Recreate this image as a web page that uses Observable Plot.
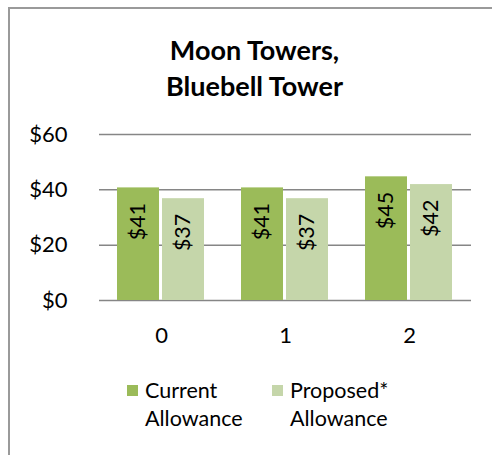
<!DOCTYPE html>
<html><head><meta charset="utf-8">
<script src="https://cdn.jsdelivr.net/npm/d3@7"></script>
<script src="https://cdn.jsdelivr.net/npm/@observablehq/plot@0.6"></script>
<style>
html,body{margin:0;padding:0;width:492px;height:455px;overflow:hidden;background:#fff;font-family:Lato,sans-serif;}
#frame{position:absolute;left:8px;top:7px;width:500px;height:470px;border:2px solid #9a9a9a;box-sizing:border-box;}
#title{position:absolute;left:9px;width:491px;top:32px;text-align:center;font:bold 27px/36px Lato,sans-serif;color:#000;}
#chart{position:absolute;left:0;top:100px;}
.leg{position:absolute;top:376px;font:21.5px/28px Lato,sans-serif;color:#000;}
.sw{position:absolute;width:11px;height:11px;top:385px;}
</style></head>
<body>
<div id="frame"></div>
<div id="title">Moon Towers,<br>Bluebell Tower</div>
<div id="chart"></div>
<div id="legend"></div>
<script>
const categories = ["0", "1", "2"];
const series = ["Current Allowance", "Proposed* Allowance"];
const current = [40.7, 40.7, 44.7];
const proposed = [36.8, 36.8, 41.9];
const yTicks = [0, 20, 40, 60];
const colors = ["#9bbb59", "#c5d6aa"];

const rows = [];
categories.forEach((c, i) => {
  rows.push({cat: c, series: series[0], value: current[i]});
  rows.push({cat: c, series: series[1], value: proposed[i]});
});

const chart = Plot.plot({
  width: 492, height: 260,
  marginTop: 34, marginBottom: 60, marginLeft: 98, marginRight: 21,
  style: {fontFamily: "Lato, sans-serif", fontSize: "22px", color: "#000", background: "transparent"},
  fx: {domain: categories, padding: 0, label: null, tickSize: 0, tickPadding: 27, axis: "bottom"},
  x: {domain: series, paddingInner: 0.06, paddingOuter: 0.38, axis: null},
  y: {domain: [0, 60], ticks: yTicks, tickFormat: d => "$" + d, label: null, tickSize: 0, tickPadding: 32},
  color: {domain: series, range: colors},
  marks: [
    Plot.ruleY(yTicks, {stroke: "#868686", strokeWidth: 1.5}),
    Plot.barY(rows, {fx: "cat", x: "series", y: "value", fill: "series"}),
    Plot.text(rows, {fx: "cat", x: "series", y: "value", text: d => "$" + Math.round(d.value),
      rotate: -90, textAnchor: "end", lineAnchor: "middle", dy: 15, fill: "#000", fontSize: 21.5})
  ]
});
document.getElementById("chart").appendChild(chart);

const legend = document.getElementById("legend");
const legPos = [{sw: 127, tx: 145}, {sw: 272, tx: 290}];
series.forEach((s, i) => {
  const sw = document.createElement("div");
  sw.className = "sw"; sw.style.left = legPos[i].sw + "px"; sw.style.background = colors[i];
  legend.appendChild(sw);
  const t = document.createElement("div");
  t.className = "leg"; t.style.left = legPos[i].tx + "px";
  const parts = s.split(" ");
  t.innerHTML = parts[0] + "<br>" + parts.slice(1).join(" ");
  legend.appendChild(t);
});
</script>
</body></html>
